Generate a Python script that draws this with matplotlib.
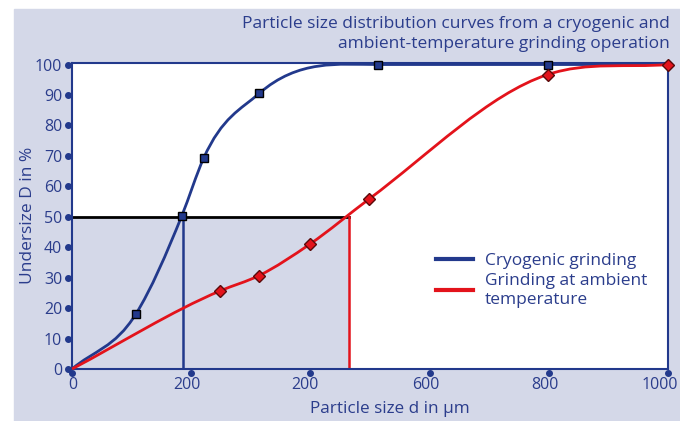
import matplotlib.pyplot as plt
import numpy as np
from matplotlib.path import Path
from matplotlib.patches import PathPatch, Rectangle
from matplotlib.lines import Line2D
import matplotlib.transforms as mtransforms

plt.rcParams['font.family'] = ['Open Sans', 'DejaVu Sans']

# Data
cryo_x = [0, 107, 184, 221, 314, 513, 798, 1000]
cryo_y = [0, 18, 50.2, 69.3, 90.5, 100, 100, 100]
ambient_x = [0, 249, 314, 399, 499, 798, 1000]
ambient_y = [0, 25.7, 30.7, 41, 55.9, 96.7, 100]
cryo_marks = [1, 2, 3, 4, 5, 6]        # indices that carry a marker
ambient_marks = [1, 2, 3, 4, 5, 6]
d50_cryo = 187
d50_ambient = 465
xticks = [0, 200, 400, 600, 800, 1000]
xtick_labels = ["0", "200", "200", "600", "800", "1000"]
yticks = list(range(0, 101, 10))

navy = '#22398c'
red = '#e3131b'
lav = '#d4d8e8'
txt = '#2b3d8c'


def smooth_path(xs, ys):
    # cubic Hermite curve through the points, written as Bezier segments
    x = np.asarray(xs, float)
    y = np.asarray(ys, float)
    n = len(x)
    h = np.diff(x)
    d = np.diff(y) / h
    m = np.zeros(n)
    m[0] = d[0]
    m[-1] = d[-1]
    for i in range(1, n - 1):
        if d[i - 1] * d[i] > 0:
            m[i] = (h[i] * d[i - 1] + h[i - 1] * d[i]) / (h[i - 1] + h[i])
    verts = [(x[0], y[0])]
    codes = [Path.MOVETO]
    for i in range(n - 1):
        k = h[i] / 3
        verts += [(x[i] + k, y[i] + m[i] * k), (x[i + 1] - k, y[i + 1] - m[i + 1] * k), (x[i + 1], y[i + 1])]
        codes += [Path.CURVE4] * 3
    return Path(verts, codes)


fig = plt.figure(figsize=(6.8, 4.21), dpi=100)
fig.patches.append(Rectangle((14 / 680, 0), 1, 1 - 9 / 421, transform=fig.transFigure,
                             color=lav, zorder=-10))
ax = fig.add_axes([72 / 680, 1 - 369 / 421, 596 / 680, 306 / 421])
ax.set_xlim(0, 1000)
ax.set_ylim(0, 100.5)
ax.set_facecolor('white')

ax.add_patch(Rectangle((0, 0), d50_ambient, 50, color=lav, zorder=1, lw=0))
ax.plot([0, d50_ambient], [50, 50], color='black', lw=2, zorder=2)
ax.plot([d50_cryo, d50_cryo], [0, 50], color=navy, lw=1.8, zorder=2)
ax.plot([d50_ambient, d50_ambient], [0, 50], color=red, lw=1.8, zorder=2)

ax.add_patch(PathPatch(smooth_path(cryo_x, cryo_y), fill=False, edgecolor=navy, lw=2, zorder=3))
ax.add_patch(PathPatch(smooth_path(ambient_x, ambient_y), fill=False, edgecolor=red, lw=2, zorder=3,
                       clip_on=False))

ax.plot([cryo_x[i] for i in cryo_marks], [cryo_y[i] for i in cryo_marks], 's', ms=6,
        mfc=navy, mec='black', mew=1, zorder=4, clip_on=False)
ax.plot([ambient_x[i] for i in ambient_marks], [ambient_y[i] for i in ambient_marks], 'D', ms=6.5,
        mfc=red, mec='#5a0a0a', mew=1, zorder=4, clip_on=False)

for s in ax.spines.values():
    s.set_color(navy)
    s.set_linewidth(1.5)

ax.set_xticks(xticks)
ax.set_xticklabels(xtick_labels)
ax.set_yticks(yticks)
ax.tick_params(length=0, labelsize=11.5, labelcolor=txt, pad=6)
ax.tick_params(axis='y', pad=7)
for lab, dx in zip(ax.get_xticklabels(), [1, -4, -5, -4, -4, -8]):
    lab.set_transform(lab.get_transform() + mtransforms.ScaledTranslation(dx / 100, 0, fig.dpi_scale_trans))

# dot tick marks just outside the spines
off_x = mtransforms.ScaledTranslation(0, -4 / 100, fig.dpi_scale_trans)
ax.plot(xticks, [0] * len(xticks), 'o', ms=4, color=navy, clip_on=False,
        transform=ax.get_xaxis_transform() + off_x, zorder=5)
off_y = mtransforms.ScaledTranslation(-4 / 100, 0, fig.dpi_scale_trans)
ax.plot([0] * len(yticks), yticks, 'o', ms=4, color=navy, clip_on=False,
        transform=ax.get_yaxis_transform() + off_y, zorder=5)

fig.text(390 / 680, 1 - 409 / 421, "Particle size d in µm", fontsize=12.3, color=txt,
         ha='center', va='center')
fig.text(28 / 680, 1 - 215 / 421, "Undersize D in %", fontsize=12.5, color=txt,
         ha='center', va='center', rotation=90)

fig.text(670 / 680, 1 - 34 / 421,
         "Particle size distribution curves from a cryogenic and\nambient-temperature grinding operation",
         ha='right', va='center', fontsize=12.5, color=txt, linespacing=1.4)

handles = [Line2D([], [], color=navy, lw=3), Line2D([], [], color=red, lw=3)]
ax.legend(handles, ["Cryogenic grinding", "Grinding at ambient\ntemperature"],
          loc='upper left', bbox_to_anchor=(0.585, 0.43), frameon=False, fontsize=12.5,
          labelcolor=txt, handlelength=2.1, handletextpad=0.7, labelspacing=0.2)
for t in ax.get_legend().get_texts():
    t.set_linespacing(1.3)

fig.savefig('out.png', dpi=100)
